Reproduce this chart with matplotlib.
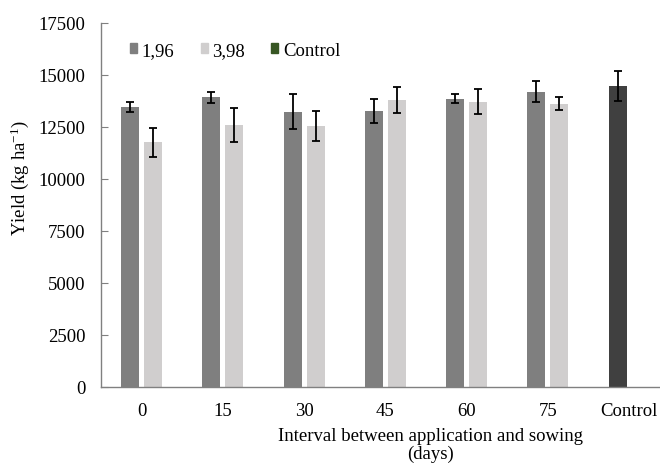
import matplotlib
matplotlib.use("Agg")
import matplotlib.pyplot as plt
from matplotlib.patches import Patch
import numpy as np

plt.rcParams['font.family'] = ['Liberation Serif', 'DejaVu Serif']
plt.rcParams['mathtext.fontset'] = 'custom'
plt.rcParams['mathtext.rm'] = 'Liberation Serif'
plt.rcParams['mathtext.it'] = 'Liberation Serif:italic'

# Data
categories = ["0", "15", "30", "45", "60", "75", "Control"]
dose_196 = [13480, 13930, 13240, 13270, 13850, 14200]
err_196 = [240, 265, 830, 580, 215, 500]
dose_398 = [11770, 12580, 12550, 13810, 13720, 13610]
err_398 = [705, 810, 715, 635, 595, 310]
control_val = [14470]
control_err = [730]

fs = 13.5

fig = plt.figure(figsize=(6.6, 4.64), dpi=100)
ax = fig.add_axes([101 / 660, 76 / 464, 559 / 660, 364 / 464])

x = np.arange(len(dose_196))
w = 0.22
off = 0.142
ekw = dict(ecolor="black", elinewidth=1.3, capsize=2.8, capthick=1.3)

ax.bar(x - off, dose_196, w, color="#7f7f7f", yerr=err_196, error_kw=ekw)
ax.bar(x + off, dose_398, w, color="#d0cece", yerr=err_398, error_kw=ekw)
ax.bar([len(dose_196) - off], control_val, w, color="#404040",
       yerr=control_err, error_kw=ekw)

ax.set_xlim(-0.5, 6.38)
ax.set_ylim(0, 17500)
ax.set_yticks(np.arange(0, 17501, 2500))
ax.set_xticks(np.arange(len(categories)))
ax.set_xticklabels(categories)
ax.tick_params(axis="x", length=0, labelsize=fs, pad=11)
ax.tick_params(axis="y", direction="in", length=5, color="#808080",
               labelsize=fs, pad=11)

for s in ["top", "right"]:
    ax.spines[s].set_visible(False)
for s in ["left", "bottom"]:
    ax.spines[s].set_color("#808080")
    ax.spines[s].set_linewidth(1)

# axis titles
fig.text(20 / 660, 1 - 178 / 464, "Yield (kg ha$^{-1}$)", rotation=90,
         ha="center", va="center", fontsize=fs)
fig.text(430 / 660, 1 - 437 / 464, "Interval between application and sowing",
         ha="center", va="center", fontsize=fs)
fig.text(430 / 660, 1 - 454 / 464, "(days)", ha="center", va="center",
         fontsize=fs)

handles = [Patch(color="#7f7f7f"), Patch(color="#d0cece"),
           Patch(color="#375623")]
ax.legend(handles, ["1,96", "3,98", "Control"], ncol=3, frameon=False,
          loc="upper left", bbox_to_anchor=(0.022, 0.995), fontsize=fs,
          handlelength=0.37, handleheight=0.37, handletextpad=0.25,
          columnspacing=1.4)

fig.savefig("out.png", dpi=100)
